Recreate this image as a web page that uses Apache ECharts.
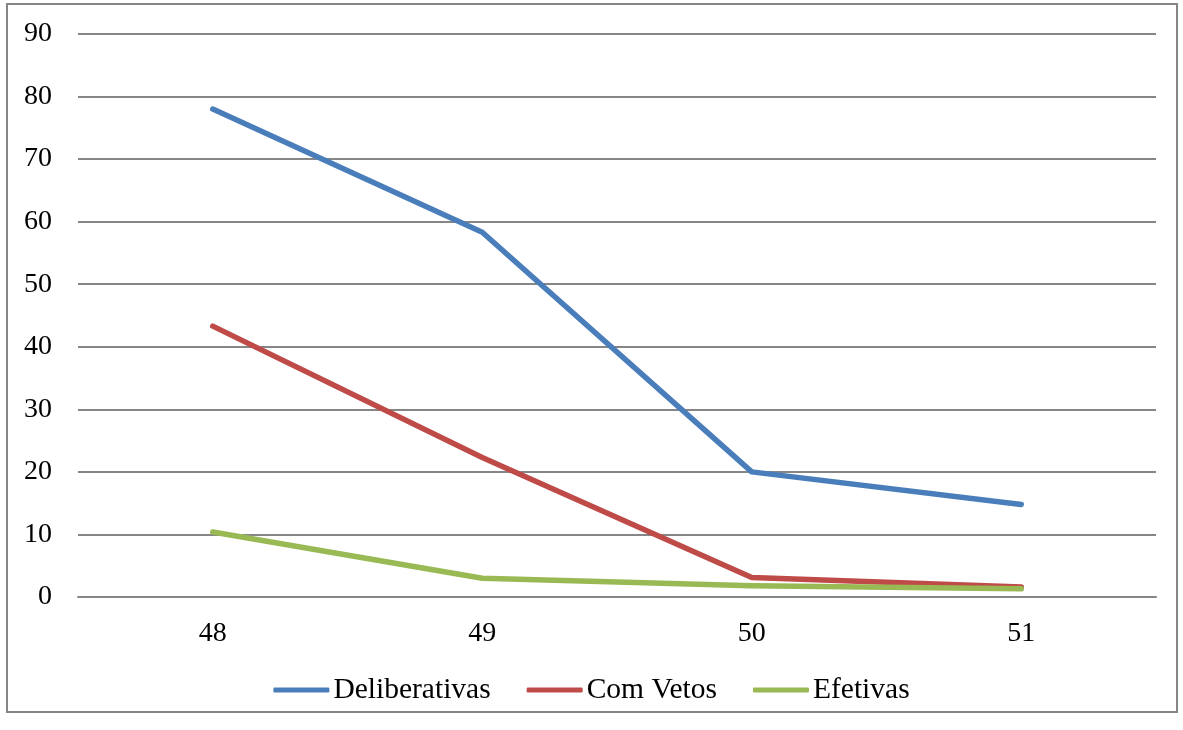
<!DOCTYPE html>
<html>
<head>
<meta charset="utf-8">
<script src="https://cdn.jsdelivr.net/npm/echarts@6/dist/echarts.min.js"></script>
<style>
html,body{margin:0;padding:0;background:#fff;}
#chart{width:1183px;height:730px;}
</style>
</head>
<body>
<div id="chart"></div>
<script>
const categories = ['48', '49', '50', '51'];
const deliberativas = [78, 58.3, 20, 14.8];
const comVetos = [43.3, 22.3, 3.1, 1.6];
const efetivas = [10.4, 3.0, 1.8, 1.3];
const seriesNames = ['Deliberativas', 'Com Vetos', 'Efetivas'];
const colors = ['#4a7ebb', '#be4b48', '#98b954'];

const chart = echarts.init(document.getElementById('chart'), null, {renderer: 'canvas'});
const font = '"Liberation Serif", "Times New Roman", serif';
chart.setOption({
  animation: false,
  backgroundColor: '#fff',
  color: colors,
  graphic: [{
    type: 'rect',
    shape: {x: 7, y: 4, width: 1170, height: 708},
    style: {fill: 'none', stroke: '#868686', lineWidth: 2},
    silent: true
  }],
  grid: {left: 78, right: 27, top: 34, bottom: 133, containLabel: false},
  legend: {
    bottom: 20,
    left: 'center',
    itemWidth: 56,
    itemHeight: 5,
    itemGap: 36,
    icon: 'roundRect',
    textStyle: {fontFamily: font, fontSize: 29.5, color: '#000', padding: [0, 0, 0, -1]},
    data: seriesNames
  },
  xAxis: {
    type: 'category',
    data: categories,
    boundaryGap: true,
    axisLine: {show: true, lineStyle: {color: '#868686', width: 2}},
    axisTick: {show: false},
    axisLabel: {fontFamily: font, fontSize: 28, color: '#000', margin: 23}
  },
  yAxis: {
    type: 'value',
    min: 0, max: 90, interval: 10,
    axisLine: {show: false},
    axisTick: {show: false},
    axisLabel: {fontFamily: font, fontSize: 28, color: '#000', margin: 26},
    splitLine: {show: true, lineStyle: {color: '#868686', width: 2}}
  },
  series: [
    {name: seriesNames[0], type: 'line', data: deliberativas, symbol: 'none', lineStyle: {width: 5.5, cap: 'round', join: 'round'}},
    {name: seriesNames[1], type: 'line', data: comVetos, symbol: 'none', lineStyle: {width: 5.5, cap: 'round', join: 'round'}},
    {name: seriesNames[2], type: 'line', data: efetivas, symbol: 'none', lineStyle: {width: 5.5, cap: 'round', join: 'round'}}
  ]
});
</script>
</body>
</html>
